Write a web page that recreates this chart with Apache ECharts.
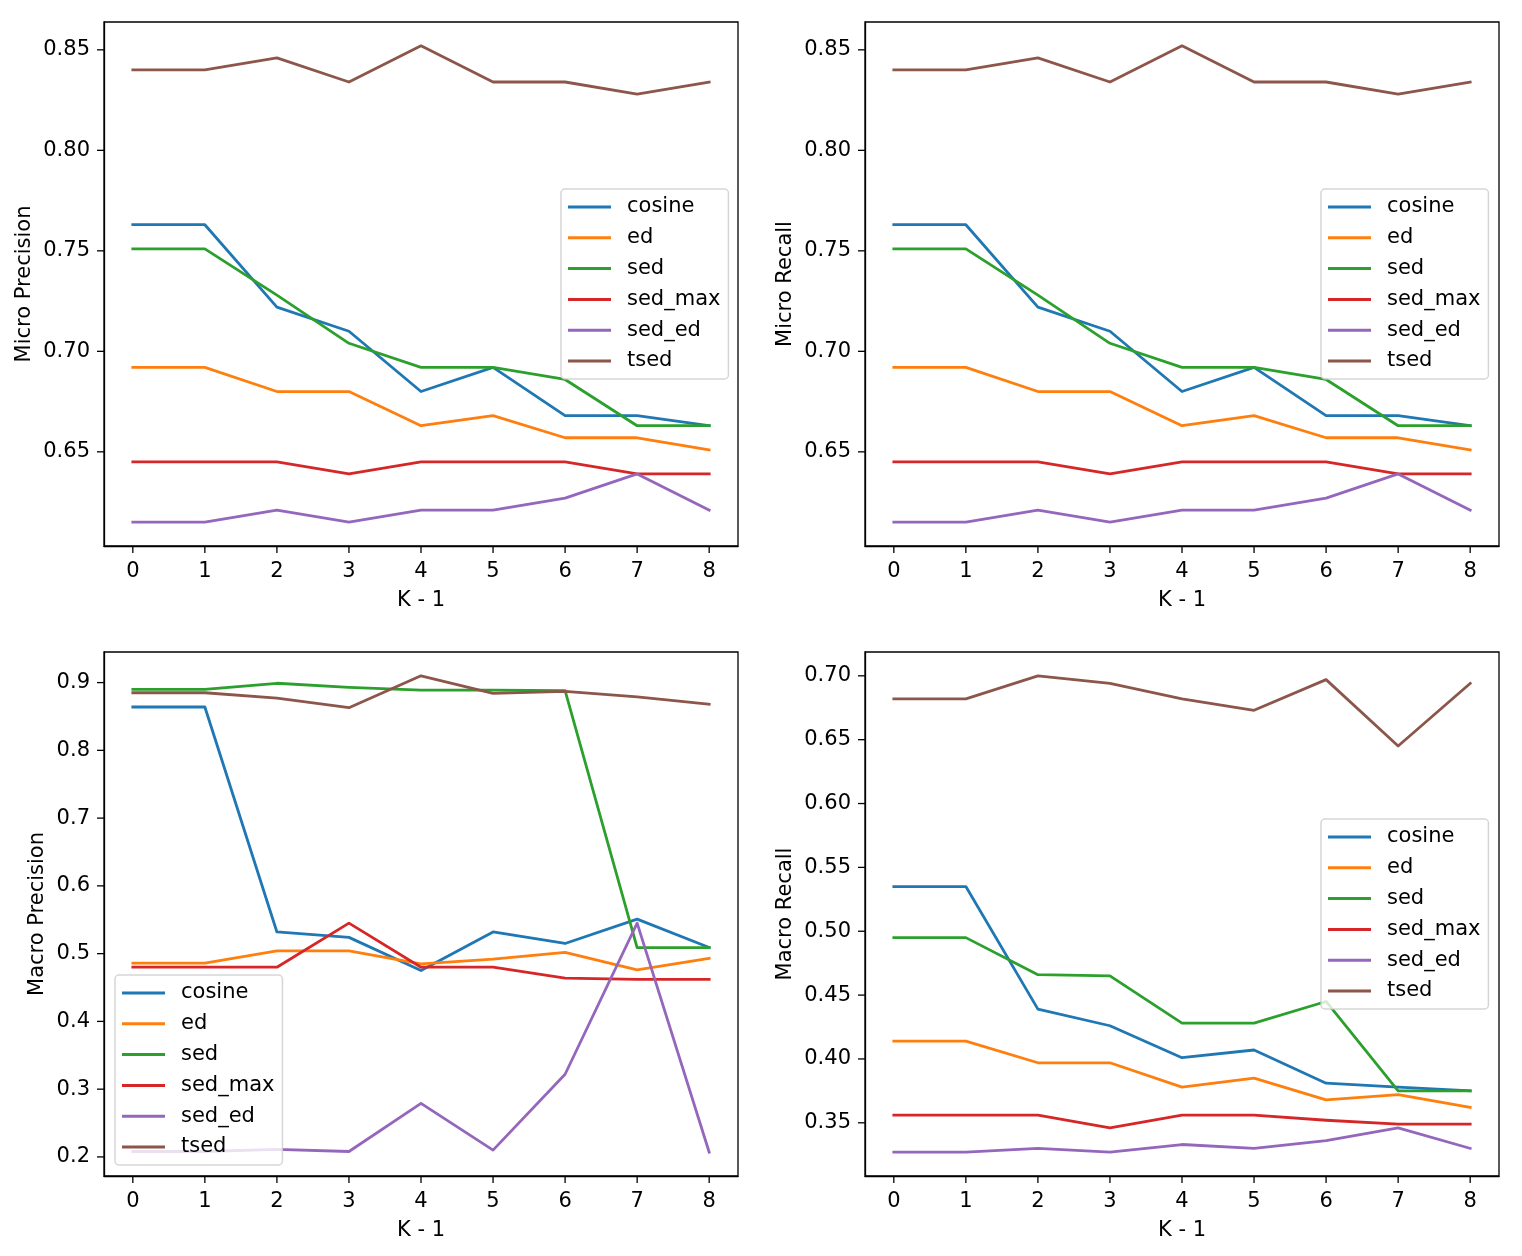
<!DOCTYPE html>
<html>
<head>
<meta charset="utf-8">
<script src="https://cdn.jsdelivr.net/npm/echarts@6/dist/echarts.min.js"></script>
<style>
html, body { margin: 0; padding: 0; background: #fff; }
#chart { width: 1522px; height: 1256px; }
</style>
</head>
<body>
<div id="chart"></div>
<script>
var names = ['cosine', 'ed', 'sed', 'sed_max', 'sed_ed', 'tsed'];
var colors = ['#1f77b4', '#ff7f0e', '#2ca02c', '#d62728', '#9467bd', '#8c564b'];
var ks = [0, 1, 2, 3, 4, 5, 6, 7, 8];

// micro precision and micro recall come out the same
var microCosine = [0.763, 0.763, 0.722, 0.710, 0.680, 0.692, 0.668, 0.668, 0.663];
var microEd     = [0.692, 0.692, 0.680, 0.680, 0.663, 0.668, 0.657, 0.657, 0.651];
var microSed    = [0.751, 0.751, 0.728, 0.704, 0.692, 0.692, 0.686, 0.663, 0.663];
var microSedMax = [0.645, 0.645, 0.645, 0.639, 0.645, 0.645, 0.645, 0.639, 0.639];
var microSedEd  = [0.615, 0.615, 0.621, 0.615, 0.621, 0.621, 0.627, 0.639, 0.621];
var microTsed   = [0.840, 0.840, 0.846, 0.834, 0.852, 0.834, 0.834, 0.828, 0.834];

var macroPCosine = [0.864, 0.864, 0.532, 0.524, 0.475, 0.532, 0.515, 0.551, 0.509];
var macroPEd     = [0.486, 0.486, 0.504, 0.504, 0.485, 0.492, 0.502, 0.476, 0.493];
var macroPSed    = [0.890, 0.890, 0.899, 0.893, 0.889, 0.889, 0.888, 0.509, 0.509];
var macroPSedMax = [0.480, 0.480, 0.480, 0.545, 0.480, 0.480, 0.464, 0.462, 0.462];
var macroPSedEd  = [0.208, 0.208, 0.211, 0.208, 0.279, 0.210, 0.322, 0.545, 0.207];
var macroPTsed   = [0.885, 0.885, 0.877, 0.863, 0.910, 0.884, 0.887, 0.879, 0.868];

var macroRCosine = [0.535, 0.535, 0.439, 0.426, 0.401, 0.407, 0.381, 0.378, 0.375];
var macroREd     = [0.414, 0.414, 0.397, 0.397, 0.378, 0.385, 0.368, 0.372, 0.362];
var macroRSed    = [0.495, 0.495, 0.466, 0.465, 0.428, 0.428, 0.445, 0.375, 0.375];
var macroRSedMax = [0.356, 0.356, 0.356, 0.346, 0.356, 0.356, 0.352, 0.349, 0.349];
var macroRSedEd  = [0.327, 0.327, 0.330, 0.327, 0.333, 0.330, 0.336, 0.346, 0.330];
var macroRTsed   = [0.682, 0.682, 0.700, 0.694, 0.682, 0.673, 0.697, 0.645, 0.694];

var microTicks = [0.65, 0.70, 0.75, 0.80, 0.85];
var macroPTicks = [0.2, 0.3, 0.4, 0.5, 0.6, 0.7, 0.8, 0.9];
var macroRTicks = [0.35, 0.40, 0.45, 0.50, 0.55, 0.60, 0.65, 0.70];

var font = 'DejaVu Sans';
var fs = 21;

var panels = [
    { title: 'Micro Precision', ticks: microTicks, dec: 2, left: 104, top: 22, nameGap: 69,
      legend: { left: 561, top: 189 },
      data: [microCosine, microEd, microSed, microSedMax, microSedEd, microTsed] },
    { title: 'Micro Recall', ticks: microTicks, dec: 2, left: 865, top: 22, nameGap: 69,
      legend: { left: 1321, top: 189 },
      data: [microCosine, microEd, microSed, microSedMax, microSedEd, microTsed] },
    { title: 'Macro Precision', ticks: macroPTicks, dec: 1, left: 104, top: 652, nameGap: 56,
      legend: { left: 115, top: 975 },
      data: [macroPCosine, macroPEd, macroPSed, macroPSedMax, macroPSedEd, macroPTsed] },
    { title: 'Macro Recall', ticks: macroRTicks, dec: 2, left: 865, top: 652, nameGap: 69,
      legend: { left: 1321, top: 819 },
      data: [macroRCosine, macroREd, macroRSed, macroRSedMax, macroRSedEd, macroRTsed] }
];

// matplotlib style: data range plus 5% each side
function padded(arrs) {
    var all = [].concat.apply([], arrs);
    var lo = Math.min.apply(null, all), hi = Math.max.apply(null, all);
    var m = (hi - lo) * 0.05;
    return [lo - m, hi + m];
}
var xExt = padded([ks]);

function xTickItem(params, api) {
    var cs = params.coordSys;
    var px = api.coord([api.value(0), api.value(1)])[0];
    var y0 = cs.y + cs.height;
    return { type: 'line', shape: { x1: px, y1: y0, x2: px, y2: y0 + 7 },
             style: { stroke: '#000', lineWidth: 1.3 } };
}
function yTickItem(params, api) {
    var cs = params.coordSys;
    var py = api.coord([api.value(0), api.value(1)])[1];
    return { type: 'line', shape: { x1: cs.x - 7, y1: py, x2: cs.x, y2: py },
             style: { stroke: '#000', lineWidth: 1.3 } };
}

var grids = [], xAxes = [], yAxes = [], legends = [], series = [];

panels.forEach(function(p, i) {
    var yExt = padded(p.data);
    grids.push({
        left: p.left, top: p.top, width: 634, height: 524,
        show: true, borderColor: '#000', borderWidth: 1.3, backgroundColor: 'transparent'
    });
    xAxes.push({
        type: 'value', gridIndex: i, min: xExt[0], max: xExt[1],
        name: 'K - 1', nameLocation: 'middle', nameGap: 44,
        nameTextStyle: { fontFamily: font, fontSize: fs, color: '#000' },
        axisLine: { show: true, onZero: false, lineStyle: { color: '#000', width: 1.3 } },
        splitLine: { show: false },
        axisTick: { show: false },
        axisLabel: { customValues: ks, margin: 15, fontFamily: font, fontSize: fs, color: '#000' }
    });
    yAxes.push({
        type: 'value', gridIndex: i, min: yExt[0], max: yExt[1],
        name: p.title, nameLocation: 'middle', nameGap: p.nameGap, nameRotate: 90,
        nameTextStyle: { fontFamily: font, fontSize: fs, color: '#000' },
        axisLine: { show: true, onZero: false, lineStyle: { color: '#000', width: 1.3 } },
        splitLine: { show: false },
        axisTick: { show: false },
        axisLabel: {
            customValues: p.ticks, margin: 14, fontFamily: font, fontSize: fs, color: '#000',
            formatter: (function(d) { return function(v) { return v.toFixed(d); }; })(p.dec)
        }
    });
    legends.push({
        data: names, orient: 'vertical', left: p.legend.left, top: p.legend.top,
        icon: 'rect', itemWidth: 43, itemHeight: 3, itemGap: 8.8,
        selectedMode: false,
        textStyle: { fontFamily: font, fontSize: fs, lineHeight: 22, color: '#000', padding: [0, 0, 0, 11] },
        backgroundColor: 'rgba(255,255,255,0.8)',
        borderColor: 'rgba(204,204,204,0.8)', borderWidth: 1.5, borderRadius: 4,
        padding: [7, 8, 7, 7]
    });
    p.data.forEach(function(vals, j) {
        series.push({
            name: names[j], type: 'line', xAxisIndex: i, yAxisIndex: i,
            data: ks.map(function(k, n) { return [k, vals[n]]; }),
            showSymbol: false, symbol: 'none',
            color: colors[j],
            lineStyle: { width: 2.8, color: colors[j], join: 'round', cap: 'square' },
            emphasis: { disabled: true }
        });
    });
    // tick marks, placed through the axis scales
    series.push({
        type: 'custom', xAxisIndex: i, yAxisIndex: i, clip: false, silent: true,
        data: ks.map(function(k) { return [k, p.ticks[0]]; }),
        renderItem: xTickItem
    });
    series.push({
        type: 'custom', xAxisIndex: i, yAxisIndex: i, clip: false, silent: true,
        data: p.ticks.map(function(t) { return [ks[0], t]; }),
        renderItem: yTickItem
    });
});

var myChart = echarts.init(document.getElementById('chart'));
myChart.setOption({
    animation: false,
    backgroundColor: '#fff',
    grid: grids,
    xAxis: xAxes,
    yAxis: yAxes,
    legend: legends,
    series: series
});
</script>
</body>
</html>
